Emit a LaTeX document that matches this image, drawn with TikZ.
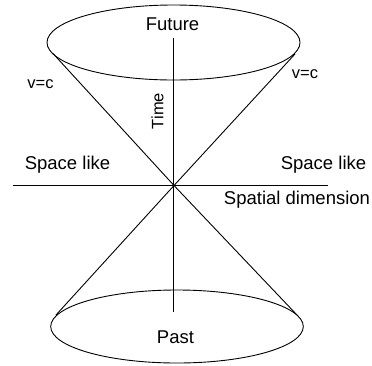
\documentclass[tikz,border=0pt]{standalone}
\usepackage{fontspec}
\setmainfont{Liberation Sans}
\begin{document}
\begin{tikzpicture}[x=1pt,y=-1pt,
  line/.style={line width=0.9pt,black},
  biglabel/.style={inner sep=0pt,anchor=base,font=\fontsize{18.5}{22}\selectfont},
  smalllabel/.style={inner sep=0pt,anchor=base,font=\fontsize{16.5}{20}\selectfont}]
\useasboundingbox (0,0) rectangle (372,365);
% key points
\coordinate (O) at (174,185.5);
\coordinate (TL) at (53,53.5);
\coordinate (TR) at (295,54);
\coordinate (BL) at (56,315);
\coordinate (BR) at (297,315);
\coordinate (Ttop) at (173.5,37.5);
\coordinate (Tbot) at (173.5,312);
\coordinate (Sleft) at (13,185.5);
\coordinate (Sright) at (328,185.5);
% ellipses
\draw[line] (173.5,42.5) ellipse [x radius=126.5pt, y radius=37.5pt];
\draw[line] (177,326.5) ellipse [x radius=126.3pt, y radius=36.5pt];
% cone
\draw[line] (TL) -- (O) -- (BR);
\draw[line] (TR) -- (O) -- (BL);
% axes
\draw[line] (Ttop) -- (Tbot);
\draw[line] (Sleft) -- (Sright);
% labels
\node[biglabel] (fut) at (172.5,30) {Future};
\node[biglabel] (past) at (175.5,343) {Past};
\node[biglabel] (sl) at (67.5,169.5) {Space like};
\node[biglabel] (sr) at (323.5,169) {Space like};
\node[biglabel] (sd) at (297,204.5) {Spatial dimension};
\node[smalllabel] (vl) at (40.5,88) {v=c};
\node[smalllabel] (vr) at (305,78) {v=c};
\node[inner sep=0pt,rotate=90,font=\fontsize{16.5}{20}\selectfont] (time) at (157.5,111) {Time};
\end{tikzpicture}
\end{document}
